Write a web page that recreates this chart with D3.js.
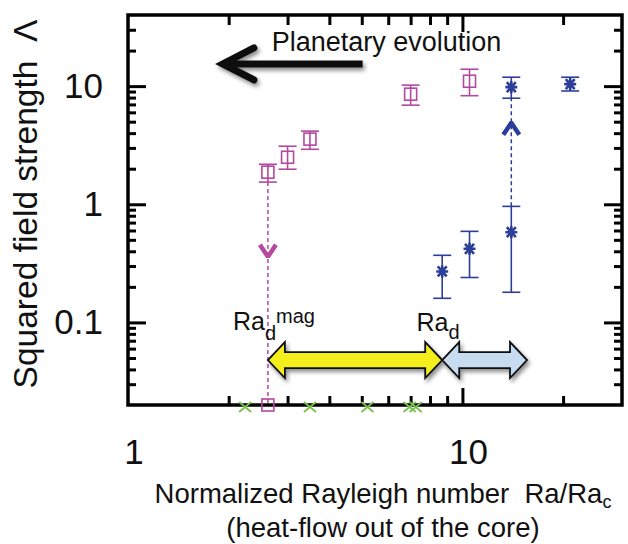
<!DOCTYPE html>
<html>
<head>
<meta charset="utf-8">
<script src="https://cdn.jsdelivr.net/npm/d3@7"></script>
<style>
body { margin: 0; background: #fff; }
svg { display: block; }
text { font-family: "Liberation Sans", Arial, Helvetica, sans-serif; fill: #111; }
</style>
</head>
<body>
<script>
// axis ranges and ticks
const xDomain = [1, 30];
const yDomain = [0.02, 40];
const xMajor = [1, 10];
const xMinor = [2, 3, 4, 5, 6, 7, 8, 9, 20];
const yMajor = [0.1, 1, 10];
const yMinor = [0.03, 0.04, 0.05, 0.06, 0.07, 0.08, 0.09,
                0.2, 0.3, 0.4, 0.5, 0.6, 0.7, 0.8, 0.9,
                2, 3, 4, 5, 6, 7, 8, 9, 20, 30];
const xLabels = ["1", "10"];
const yLabels = ["0.1", "1", "10"];

// magenta squares (non-magnetic onset branch)
const magX = [2.62, 3.0, 3.5, 7.0, 10.5];
const magY = [1.87, 2.5, 3.56, 8.55, 11.0];
const magLo = [1.54, 1.98, 2.92, 6.9, 8.3];
const magHi = [2.18, 3.1, 4.16, 10.2, 13.9];

// blue asterisks
const bluX = [8.7, 10.5, 14.0, 14.0, 21.0];
const bluY = [0.27, 0.42, 0.58, 9.8, 10.4];
const bluLo = [0.16, 0.24, 0.18, 7.9, 9.1];
const bluHi = [0.37, 0.59, 0.96, 11.9, 11.9];

// green crosses (no dynamo, sitting on the bottom axis)
const grnX = [2.24, 3.5, 5.2, 6.95, 7.25];

// annotations
const raDmag = 2.62, raD = 8.7, raEnd = 15.6, bandY = 0.048;

const W = 628, H = 544;
const x = d3.scaleLog().domain(xDomain).range([128, 622]);
const y = d3.scaleLog().domain(yDomain).range([405, 15]);

const magenta = "#b4489e", blue = "#2c3e98", green = "#78c24c";

const svg = d3.select("body").append("svg").attr("width", W).attr("height", H);

const defs = svg.append("defs");
const sh = defs.append("filter").attr("id", "shadow")
  .attr("x", "-20%").attr("y", "-40%").attr("width", "150%").attr("height", "190%");
sh.append("feDropShadow").attr("dx", 2).attr("dy", 3).attr("stdDeviation", 2)
  .attr("flood-color", "#000").attr("flood-opacity", 0.45);
const bl = defs.append("filter").attr("id", "soft");
bl.append("feGaussianBlur").attr("stdDeviation", 0.7);

// ticks (inward, on all four sides)
function ticks(axis, vals, size, tr) {
  const g = svg.append("g").attr("transform", tr)
    .call(axis.tickValues(vals).tickSize(size).tickFormat(""));
  g.select(".domain").remove();
  g.selectAll(".tick line").attr("stroke", "#000").attr("stroke-width", 3);
}
ticks(d3.axisBottom(x), xMinor, -9, "translate(0,405)");
ticks(d3.axisBottom(x), [10], -17, "translate(0,405)");
ticks(d3.axisTop(x), xMinor, -10, "translate(0,15)");
ticks(d3.axisTop(x), [10], -17, "translate(0,15)");
ticks(d3.axisLeft(y), yMinor, -8, "translate(128,0)");
ticks(d3.axisLeft(y), yMajor, -18, "translate(128,0)");
ticks(d3.axisRight(y), yMinor, -8, "translate(622,0)");
ticks(d3.axisRight(y), yMajor, -18, "translate(622,0)");

svg.append("rect").attr("x", 128).attr("y", 15).attr("width", 494).attr("height", 390)
  .attr("fill", "none").attr("stroke", "#000").attr("stroke-width", 3.5);

// tick labels
svg.selectAll(".xl").data(xMajor).enter().append("text")
  .attr("x", d => x(d) + 6).attr("y", 464).attr("text-anchor", "middle")
  .attr("font-size", 35).text((d, i) => xLabels[i]);
svg.selectAll(".yl").data(yMajor).enter().append("text")
  .attr("x", 103).attr("y", d => y(d) + 12).attr("text-anchor", "end")
  .attr("font-size", 35).text((d, i) => yLabels[i]);

// axis titles
svg.append("text").attr("transform", "translate(37,204) rotate(-90)")
  .attr("text-anchor", "middle").attr("font-size", 33.5).style("white-space", "pre")
  .text("Squared field strength  \u039B");
const xt = svg.append("text").attr("y", 503).attr("text-anchor", "middle")
  .attr("font-size", 27.5).style("white-space", "pre");
xt.append("tspan").attr("x", 383).text("Normalized Rayleigh number  Ra/Ra");
xt.append("tspan").attr("dy", 5).attr("font-size", 18).text("c");
svg.append("text").attr("x", 383).attr("y", 537).attr("text-anchor", "middle")
  .attr("font-size", 27.5).text("(heat-flow out of the core)");

// planetary evolution arrow
const evo = svg.append("g").attr("filter", "url(#shadow)");
evo.append("line").attr("x1", x(5.03)).attr("x2", x(1.93)).attr("y1", y(15.4)).attr("y2", y(15.4))
  .attr("stroke", "#111").attr("stroke-width", 7);
evo.append("path")
  .attr("d", `M${x(2.38)},${y(15.4) - 16}L${x(1.92)},${y(15.4)}L${x(2.38)},${y(15.4) + 16}`)
  .attr("fill", "none").attr("stroke", "#111").attr("stroke-width", 7)
  .attr("stroke-linejoin", "miter").attr("stroke-linecap", "round");
svg.append("text").attr("x", x(2.69)).attr("y", y(19.8)).attr("font-size", 27)
  .attr("fill", "#222").text("Planetary evolution");

// band arrows
function band(x0, x1, fill) {
  const a = x(x0), b = x(x1), c = y(bandY), hs = 8, hh = 18, hl = 17;
  const d = `M${a},${c}L${a + hl},${c - hh}L${a + hl},${c - hs}L${b - hl},${c - hs}L${b - hl},${c - hh}` +
    `L${b},${c}L${b - hl},${c + hh}L${b - hl},${c + hs}L${a + hl},${c + hs}L${a + hl},${c + hh}Z`;
  svg.append("path").attr("d", d).attr("fill", fill).attr("stroke", "#111")
    .attr("stroke-width", 1.8).attr("stroke-linejoin", "miter").attr("filter", "url(#shadow)");
}

// dashed arrows
svg.append("line").attr("x1", x(magX[0])).attr("x2", x(magX[0]))
  .attr("y1", y(magLo[0])).attr("y2", y(yDomain[0]))
  .attr("stroke", magenta).attr("stroke-width", 1.5).attr("stroke-dasharray", "4,3");
svg.append("line").attr("x1", x(bluX[2])).attr("x2", x(bluX[2]))
  .attr("y1", y(bluHi[2])).attr("y2", y(bluLo[3]))
  .attr("stroke", blue).attr("stroke-width", 1.5).attr("stroke-dasharray", "4,3");
function head(cx, cy, dir, col) {
  svg.append("path")
    .attr("d", `M${cx - 8},${cy - dir * 12}L${cx},${cy}L${cx + 8},${cy - dir * 12}`)
    .attr("fill", "none").attr("stroke", col).attr("stroke-width", 4.5)
    .attr("stroke-linejoin", "miter").attr("filter", "url(#soft)");
}
head(x(magX[0]), y(0.36), 1, magenta);
head(x(bluX[2]), y(4.9), -1, blue);

band(raDmag, raD, "#f4ee1e");
band(raD, raEnd, "#c7dcf0");

// Ra labels
const t1 = svg.append("text").attr("x", x(2.06)).attr("y", y(0.087)).attr("font-size", 25);
t1.append("tspan").text("Ra");
t1.append("tspan").attr("dy", 10).attr("font-size", 20).text("d");
t1.append("tspan").attr("dy", -17).attr("font-size", 20).text("mag");
const t2 = svg.append("text").attr("x", x(7.29)).attr("y", y(0.084)).attr("font-size", 25);
t2.append("tspan").text("Ra");
t2.append("tspan").attr("dy", 8).attr("font-size", 20).text("d");

// error bars
function errs(xs, ys, lo, hi, col) {
  const g = svg.append("g").attr("stroke", col).attr("stroke-width", 1.6).attr("fill", "none");
  xs.forEach((d, i) => {
    g.append("line").attr("x1", x(d)).attr("x2", x(d)).attr("y1", y(lo[i])).attr("y2", y(hi[i]));
    [lo[i], hi[i]].forEach(v => g.append("line")
      .attr("x1", x(d) - 9).attr("x2", x(d) + 9).attr("y1", y(v)).attr("y2", y(v)));
  });
}
errs(magX, magY, magLo, magHi, magenta);
errs(bluX, bluY, bluLo, bluHi, blue);

// magenta open squares
svg.append("g").selectAll("rect").data(magX.map((d, i) => [d, magY[i]]).concat([[magX[0], yDomain[0]]]))
  .enter().append("rect")
  .attr("x", d => x(d[0]) - 6).attr("y", d => y(d[1]) - 6).attr("width", 12).attr("height", 12)
  .attr("fill", "none").attr("stroke", magenta).attr("stroke-width", 1.6);

// blue asterisks
const star = "M-6,0H6M-4.5,-5L4.5,5M-4.5,5L4.5,-5M0,-6V6";
svg.append("g").selectAll("path").data(bluX.map((d, i) => [d, bluY[i]]))
  .enter().append("path").attr("d", star)
  .attr("transform", d => `translate(${x(d[0])},${y(d[1])})`)
  .attr("stroke", blue).attr("stroke-width", 2.6).attr("fill", "none");

// green crosses on the bottom axis
svg.append("g").selectAll("path").data(grnX).enter().append("path")
  .attr("d", "M-6,-5L6,5M-6,5L6,-5")
  .attr("transform", d => `translate(${x(d)},${y(yDomain[0]) + 2})`)
  .attr("stroke", green).attr("stroke-width", 1.8).attr("fill", "none");
</script>
</body>
</html>
